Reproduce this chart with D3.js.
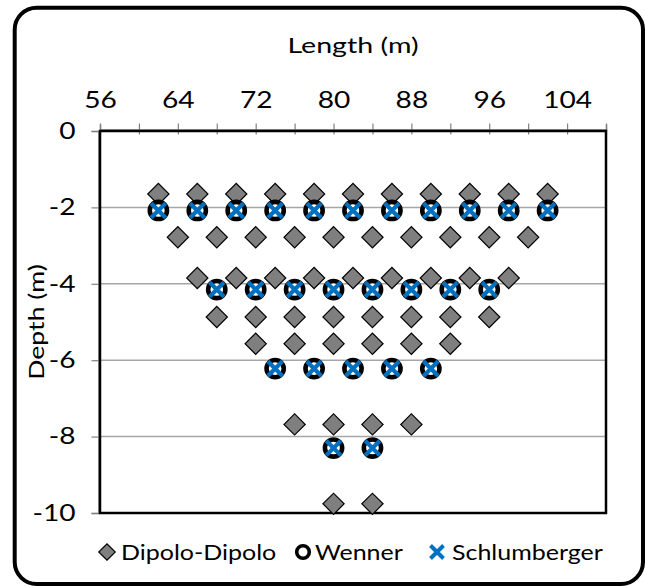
<!DOCTYPE html>
<html><head><meta charset="utf-8">
<script src="https://cdn.jsdelivr.net/npm/d3@7"></script>
<style>body{margin:0;background:#fff}svg{display:block}text{font-family:Lato,Carlito,Calibri,"Open Sans",sans-serif;fill:#000}</style>
</head><body><svg id="c" width="645" height="586"></svg>
<script>
// Dipole-dipole rows
const ddX = [
  [62,66,70,74,78,82,86,90,94,98,102],
  [64,68,72,76,80,84,88,92,96,100],
  [66,70,74,78,82,86,90,94,98],
  [68,72,76,80,84,88,92,96],
  [72,76,80,84,88,92],
  [76,80,84,88],
  [80,84]
];
const ddDepth = [-1.65,-2.78,-3.85,-4.87,-5.57,-7.68,-9.76];
// Wenner / Schlumberger rows
const wsX = [
  [62,66,70,74,78,82,86,90,94,98,102],
  [68,72,76,80,84,88,92,96],
  [74,78,82,86,90],
  [80,84]
];
const wsDepth = [-2.08,-4.15,-6.22,-8.3];
const xTicks = [56,60,64,68,72,76,80,84,88,92,96,100,104,108];
const xLabels = [56,64,72,80,88,96,104];
const yTicks = [0,-2,-4,-6,-8,-10];
const seriesNames = ["Dipolo-Dipolo","Wenner","Schlumberger"];

const dd = ddX.flatMap((r,i)=>r.map(x=>({x,y:ddDepth[i]})));
const ws = wsX.flatMap((r,i)=>r.map(x=>({x,y:wsDepth[i]})));

// horizontal text stretch (the original uses a wide font)
function stretch(k){
  return sel=>sel.each(function(){
    const t=d3.select(this);
    const x=+(t.attr("x")||0);
    t.attr("x",x/k).attr("transform",((t.attr("transform")||"")+` scale(${k},1)`).trim());
  });
}

const svg = d3.select("#c");
const L=100, R=606, T=131, B=513;
const x = d3.scaleLinear().domain([56,108]).range([L,R]);
const y = d3.scaleLinear().domain([0,-10]).range([T,B]);

svg.append("rect").attr("x",14.7).attr("y",7.7).attr("width",628.3).attr("height",576.3)
  .attr("rx",22).attr("fill","#fff").attr("stroke","#000").attr("stroke-width",4);

// gridlines
svg.append("g").selectAll("line").data(yTicks.filter(d=>d!==0&&d!==-10)).join("line")
  .attr("x1",L).attr("x2",R).attr("y1",d=>y(d)).attr("y2",d=>y(d))
  .attr("stroke","#a6a6a6").attr("stroke-width",1.5);

// top axis
const ax = svg.append("g").attr("transform",`translate(0,${T-1.5})`)
  .call(d3.axisTop(x).tickValues(xTicks).tickSize(5).tickPadding(17)
    .tickFormat(d=>xLabels.includes(d)?String(d):""));
ax.attr("font-family",null).attr("font-size",null);
ax.select(".domain").attr("stroke","#808080").attr("stroke-width",1.5);
ax.selectAll(".tick line").attr("stroke","#808080").attr("y2",-6).attr("y1",5).attr("stroke-width",1.2);
ax.selectAll("text").attr("font-size",22.5).call(stretch(1.25));

// left axis
const ay = svg.append("g").attr("transform",`translate(${L-1.5},0)`)
  .call(d3.axisLeft(y).tickValues(yTicks).tickSize(7).tickPadding(16).tickFormat(d=>String(d)));
ay.attr("font-family",null).attr("font-size",null);
ay.select(".domain").attr("stroke","#808080").attr("stroke-width",1.5);
ay.selectAll(".tick line").attr("stroke","#808080").attr("stroke-width",1.2);
ay.selectAll("text").attr("font-size",22.5).call(stretch(1.25));

// plot border
svg.append("rect").attr("x",L).attr("y",T).attr("width",R-L).attr("height",B-T)
  .attr("fill","none").attr("stroke","#000").attr("stroke-width",2.5);

const diamond = d3.symbol().type(d3.symbolSquare).size(225);
const xPath = s=>`M${-s},${-s}L${s},${s}M${-s},${s}L${s},${-s}`;

svg.append("g").selectAll("path").data(dd).join("path")
  .attr("d",diamond).attr("transform",d=>`translate(${x(d.x)},${y(d.y)}) rotate(45)`)
  .attr("fill","#7f7f7f").attr("stroke","#000").attr("stroke-width",1.2);
svg.append("g").selectAll("circle").data(ws).join("circle")
  .attr("cx",d=>x(d.x)).attr("cy",d=>y(d.y)).attr("r",8.6)
  .attr("fill","#fff").attr("stroke","#000").attr("stroke-width",4.6);
svg.append("g").selectAll("path").data(ws).join("path")
  .attr("d",xPath(7.3)).attr("transform",d=>`translate(${x(d.x)},${y(d.y)})`)
  .attr("fill","none").attr("stroke","#0070c0").attr("stroke-width",4.2);

// titles
svg.append("text").attr("x",353).attr("y",53).attr("text-anchor","middle").attr("font-size",22).text("Length (m)").call(stretch(1.3));
svg.append("text").attr("x",0).attr("transform","translate(44,322) rotate(-90)").attr("text-anchor","middle").attr("font-size",20.5).text("Depth (m)").call(stretch(1.3));

// legend
const lg = svg.append("g").attr("transform","translate(0,552)");
lg.append("path").attr("d",d3.symbol().type(d3.symbolSquare).size(135)).attr("transform","translate(107,0) rotate(45)")
  .attr("fill","#7f7f7f").attr("stroke","#000").attr("stroke-width",1.2);
lg.append("circle").attr("cx",303).attr("cy",0).attr("r",6.3).attr("fill","#fff").attr("stroke","#000").attr("stroke-width",3.6);
lg.append("path").attr("d",xPath(6.5)).attr("transform","translate(437,0)").attr("stroke","#0070c0").attr("stroke-width",4).attr("fill","none");
const lx=[121,315,452];
lg.selectAll("text").data(seriesNames).join("text").attr("x",(d,i)=>lx[i]).attr("y",8)
  .attr("font-size",21).text(d=>d).call(stretch(1.19));
</script></body></html>
